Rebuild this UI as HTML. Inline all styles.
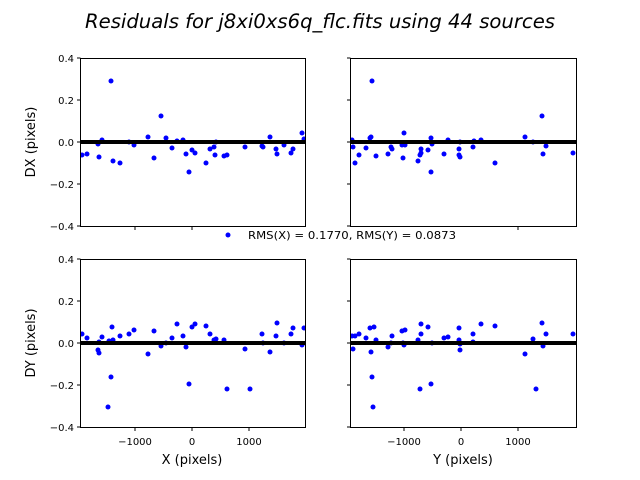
<!DOCTYPE html>
<html><head><meta charset="utf-8"><style>body{margin:0;background:#fff}svg{display:block}text{font-family:"DejaVu Sans","Liberation Sans",sans-serif;fill:#000}</style></head><body>
<svg width="640" height="480" viewBox="0 0 640 480" xmlns="http://www.w3.org/2000/svg">
<defs>
<clipPath id="c1"><rect x="80.5" y="58" width="225" height="168"/></clipPath>
<clipPath id="c2"><rect x="350.5" y="58" width="226" height="168"/></clipPath>
<clipPath id="c3"><rect x="80.5" y="259" width="225" height="168"/></clipPath>
<clipPath id="c4"><rect x="350.5" y="259" width="226" height="168"/></clipPath>
</defs>
<text x="320" y="28" font-size="19.5" font-style="italic" text-anchor="middle" textLength="470" lengthAdjust="spacingAndGlyphs">Residuals for j8xi0xs6q_flc.fits using 44 sources</text>

<g font-size="10" text-anchor="end">
<text x="74" y="62">0.4</text><text x="74" y="104">0.2</text><text x="74" y="146">0.0</text><text x="74" y="188">−0.2</text><text x="74" y="230">−0.4</text>
<text x="74" y="263">0.4</text><text x="74" y="305">0.2</text><text x="74" y="347">0.0</text><text x="74" y="389">−0.2</text><text x="74" y="431">−0.4</text>
</g>
<g stroke="#000" stroke-width="1">
<path d="M77,58H80.5M77,100H80.5M77,142H80.5M77,184H80.5M77,226H80.5M77,259H80.5M77,301H80.5M77,343H80.5M77,385H80.5M77,427H80.5"/>
<path d="M347,58H350.5M347,100H350.5M347,142H350.5M347,184H350.5M347,226H350.5M347,259H350.5M347,301H350.5M347,343H350.5M347,385H350.5M347,427H350.5"/>
<path d="M135,226V230M192,226V230M249,226V230M404,226V230M461,226V230M518,226V230"/>
<path d="M135,427V431M192,427V431M249,427V431M404,427V431M461,427V431M518,427V431"/>
</g>
<g font-size="10" text-anchor="middle">
<text x="135" y="445">−1000</text><text x="192" y="445">0</text><text x="249" y="445">1000</text>
<text x="404" y="445">−1000</text><text x="461" y="445">0</text><text x="518" y="445">1000</text>
</g>
<text x="192" y="464" font-size="13" text-anchor="middle">X (pixels)</text>
<text x="463" y="464" font-size="13" text-anchor="middle">Y (pixels)</text>
<text transform="translate(35,142) rotate(-90)" font-size="13" text-anchor="middle">DX (pixels)</text>
<text transform="translate(35,343) rotate(-90)" font-size="13" text-anchor="middle">DY (pixels)</text>

<g fill="#0000ff">
<g clip-path="url(#c1)">
<circle cx="82" cy="155" r="2.5"/><circle cx="87" cy="154" r="2.5"/><circle cx="98" cy="144" r="2.5"/><circle cx="99" cy="157" r="2.5"/><circle cx="102" cy="140" r="2.5"/><circle cx="111" cy="81" r="2.5"/><circle cx="113" cy="161" r="2.5"/><circle cx="120" cy="163" r="2.5"/><circle cx="129" cy="142" r="2.5"/><circle cx="134" cy="145" r="2.5"/><circle cx="148" cy="137" r="2.5"/><circle cx="154" cy="158" r="2.5"/><circle cx="161" cy="116" r="2.5"/><circle cx="166" cy="138" r="2.5"/><circle cx="172" cy="148" r="2.5"/><circle cx="177" cy="141" r="2.5"/><circle cx="183" cy="140" r="2.5"/><circle cx="186" cy="154" r="2.5"/><circle cx="189" cy="172" r="2.5"/><circle cx="192" cy="150" r="2.5"/><circle cx="195" cy="153" r="2.5"/><circle cx="206" cy="163" r="2.5"/><circle cx="210" cy="149" r="2.5"/><circle cx="214" cy="147" r="2.5"/><circle cx="215" cy="155" r="2.5"/><circle cx="216" cy="142" r="2.5"/><circle cx="224" cy="156" r="2.5"/><circle cx="227" cy="155" r="2.5"/><circle cx="245" cy="147" r="2.5"/><circle cx="262" cy="146" r="2.5"/><circle cx="263" cy="147" r="2.5"/><circle cx="270" cy="137" r="2.5"/><circle cx="276" cy="149" r="2.5"/><circle cx="277" cy="154" r="2.5"/><circle cx="284" cy="145" r="2.5"/><circle cx="291" cy="153" r="2.5"/><circle cx="293" cy="149" r="2.5"/><circle cx="302" cy="133" r="2.5"/><circle cx="304" cy="139" r="2.5"/>
</g>
<g clip-path="url(#c2)">
<circle cx="352" cy="140" r="2.5"/><circle cx="353" cy="147" r="2.5"/><circle cx="355" cy="163" r="2.5"/><circle cx="359" cy="155" r="2.5"/><circle cx="366" cy="148" r="2.5"/><circle cx="370" cy="138" r="2.5"/><circle cx="371" cy="137" r="2.5"/><circle cx="372" cy="81" r="2.5"/><circle cx="376" cy="156" r="2.5"/><circle cx="388" cy="154" r="2.5"/><circle cx="391" cy="147" r="2.5"/><circle cx="392" cy="149" r="2.5"/><circle cx="402" cy="145" r="2.5"/><circle cx="403" cy="158" r="2.5"/><circle cx="404" cy="133" r="2.5"/><circle cx="405" cy="145" r="2.5"/><circle cx="418" cy="161" r="2.5"/><circle cx="420" cy="155" r="2.5"/><circle cx="421" cy="149" r="2.5"/><circle cx="421" cy="153" r="2.5"/><circle cx="428" cy="150" r="2.5"/><circle cx="431" cy="138" r="2.5"/><circle cx="431" cy="172" r="2.5"/><circle cx="432" cy="144" r="2.5"/><circle cx="444" cy="154" r="2.5"/><circle cx="448" cy="140" r="2.5"/><circle cx="459" cy="149" r="2.5"/><circle cx="459" cy="155" r="2.5"/><circle cx="460" cy="157" r="2.5"/><circle cx="460" cy="142" r="2.5"/><circle cx="473" cy="147" r="2.5"/><circle cx="474" cy="141" r="2.5"/><circle cx="481" cy="140" r="2.5"/><circle cx="495" cy="163" r="2.5"/><circle cx="525" cy="137" r="2.5"/><circle cx="533" cy="142" r="2.5"/><circle cx="542" cy="116" r="2.5"/><circle cx="543" cy="154" r="2.5"/><circle cx="546" cy="146" r="2.5"/><circle cx="573" cy="153" r="2.5"/>
</g>
<g clip-path="url(#c3)">
<circle cx="82" cy="334" r="2.5"/><circle cx="87" cy="338" r="2.5"/><circle cx="98" cy="350" r="2.5"/><circle cx="99" cy="342" r="2.5"/><circle cx="99" cy="353" r="2.5"/><circle cx="102" cy="337" r="2.5"/><circle cx="108" cy="407" r="2.5"/><circle cx="109" cy="341" r="2.5"/><circle cx="111" cy="377" r="2.5"/><circle cx="112" cy="327" r="2.5"/><circle cx="113" cy="340" r="2.5"/><circle cx="120" cy="336" r="2.5"/><circle cx="129" cy="334" r="2.5"/><circle cx="134" cy="330" r="2.5"/><circle cx="148" cy="354" r="2.5"/><circle cx="154" cy="331" r="2.5"/><circle cx="161" cy="346" r="2.5"/><circle cx="166" cy="343" r="2.5"/><circle cx="172" cy="338" r="2.5"/><circle cx="177" cy="324" r="2.5"/><circle cx="183" cy="336" r="2.5"/><circle cx="186" cy="347" r="2.5"/><circle cx="189" cy="384" r="2.5"/><circle cx="192" cy="327" r="2.5"/><circle cx="195" cy="324" r="2.5"/><circle cx="206" cy="326" r="2.5"/><circle cx="210" cy="334" r="2.5"/><circle cx="214" cy="340" r="2.5"/><circle cx="216" cy="339" r="2.5"/><circle cx="224" cy="340" r="2.5"/><circle cx="227" cy="389" r="2.5"/><circle cx="245" cy="349" r="2.5"/><circle cx="250" cy="389" r="2.5"/><circle cx="262" cy="334" r="2.5"/><circle cx="263" cy="343" r="2.5"/><circle cx="270" cy="352" r="2.5"/><circle cx="276" cy="336" r="2.5"/><circle cx="277" cy="323" r="2.5"/><circle cx="284" cy="343" r="2.5"/><circle cx="291" cy="334" r="2.5"/><circle cx="293" cy="328" r="2.5"/><circle cx="302" cy="345" r="2.5"/><circle cx="304" cy="328" r="2.5"/>
</g>
<g clip-path="url(#c4)">
<circle cx="352" cy="336" r="2.5"/><circle cx="353" cy="349" r="2.5"/><circle cx="355" cy="336" r="2.5"/><circle cx="359" cy="334" r="2.5"/><circle cx="366" cy="338" r="2.5"/><circle cx="370" cy="328" r="2.5"/><circle cx="371" cy="352" r="2.5"/><circle cx="372" cy="377" r="2.5"/><circle cx="373" cy="407" r="2.5"/><circle cx="374" cy="327" r="2.5"/><circle cx="376" cy="340" r="2.5"/><circle cx="388" cy="347" r="2.5"/><circle cx="391" cy="343" r="2.5"/><circle cx="392" cy="336" r="2.5"/><circle cx="402" cy="331" r="2.5"/><circle cx="403" cy="343" r="2.5"/><circle cx="404" cy="345" r="2.5"/><circle cx="405" cy="330" r="2.5"/><circle cx="418" cy="340" r="2.5"/><circle cx="420" cy="389" r="2.5"/><circle cx="421" cy="324" r="2.5"/><circle cx="421" cy="334" r="2.5"/><circle cx="428" cy="327" r="2.5"/><circle cx="431" cy="384" r="2.5"/><circle cx="432" cy="343" r="2.5"/><circle cx="444" cy="338" r="2.5"/><circle cx="448" cy="337" r="2.5"/><circle cx="459" cy="328" r="2.5"/><circle cx="459" cy="340" r="2.5"/><circle cx="460" cy="344" r="2.5"/><circle cx="460" cy="350" r="2.5"/><circle cx="473" cy="334" r="2.5"/><circle cx="473" cy="342" r="2.5"/><circle cx="481" cy="324" r="2.5"/><circle cx="495" cy="326" r="2.5"/><circle cx="525" cy="354" r="2.5"/><circle cx="533" cy="339" r="2.5"/><circle cx="536" cy="389" r="2.5"/><circle cx="542" cy="323" r="2.5"/><circle cx="543" cy="346" r="2.5"/><circle cx="546" cy="334" r="2.5"/><circle cx="573" cy="334" r="2.5"/>
</g>
</g>
<g stroke="#000" stroke-width="4">
<path d="M80.5,142H305.5M350.5,142H576.5M80.5,343H305.5M350.5,343H576.5"/>
</g>
<g fill="none" stroke="#000" stroke-width="1">
<rect x="80.5" y="58.5" width="225" height="168"/>
<rect x="350.5" y="58.5" width="226" height="168"/>
<rect x="80.5" y="259.5" width="225" height="168"/>
<rect x="350.5" y="259.5" width="226" height="168"/>
</g>
<rect x="240" y="227" width="222" height="16" fill="#fff"/>
<circle cx="228" cy="235" r="2.5" fill="#0000ff"/>
<text x="248" y="239" font-size="11" textLength="208" lengthAdjust="spacingAndGlyphs">RMS(X) = 0.1770, RMS(Y) = 0.0873</text>
</svg>
</body></html>
